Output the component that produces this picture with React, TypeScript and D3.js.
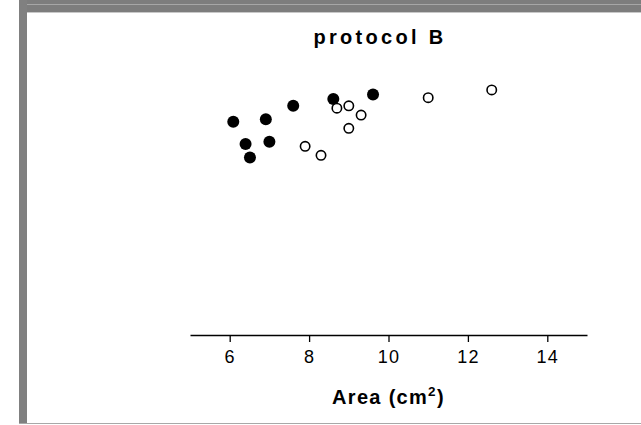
import React, { useEffect, useRef } from 'react';
import * as d3 from 'd3';

// protocol B: filled = group 1, open = group 2
const filledArea = [6.09, 6.91, 7.6, 8.61, 9.61, 6.4, 7.0, 6.51];
const filledY = [7.11, 7.19, 7.64, 7.87, 8.02, 6.37, 6.44, 5.92];
const openArea = [8.7, 9.0, 9.31, 9.0, 7.9, 8.3, 11.0, 12.6];
const openY = [7.56, 7.64, 7.33, 6.89, 6.29, 5.99, 7.91, 8.17];
const xTicks = [6, 8, 10, 12, 14];

const W = 641;
const H = 425;

const App = () => {
  const ref = useRef<SVGSVGElement>(null);

  useEffect(() => {
    const svg = d3.select(ref.current);
    svg.selectAll('*').remove();

    // frame
    svg.append('rect').attr('x', 0).attr('y', 0).attr('width', W).attr('height', H).attr('fill', '#fff');
    svg.append('rect').attr('x', 19).attr('y', 0).attr('width', W - 19).attr('height', 12).attr('fill', '#7d7d7d');
    svg.append('line').attr('x1', 27).attr('x2', W).attr('y1', 4.5).attr('y2', 4.5)
      .attr('stroke', '#a6a6a6').attr('stroke-width', 1);
    svg.append('line').attr('x1', 27).attr('x2', W).attr('y1', 12.5).attr('y2', 12.5)
      .attr('stroke', '#c8c8c8').attr('stroke-width', 1);
    svg.append('rect').attr('x', 19).attr('y', 0).attr('width', 8).attr('height', 424).attr('fill', '#808080');
    svg.append('line').attr('x1', 19).attr('x2', W).attr('y1', 423.5).attr('y2', 423.5)
      .attr('stroke', '#a8a8a8').attr('stroke-width', 1.2);

    const x = d3.scaleLinear().domain([5, 15]).range([190, 587]);
    const y = d3.scaleLinear().domain([0, 10]).range([335, 35]);

    // title
    svg.append('text')
      .attr('x', 380).attr('y', 44)
      .attr('text-anchor', 'middle')
      .attr('font-family', 'Liberation Sans, Arial, sans-serif')
      .attr('font-weight', 'bold').attr('font-size', 20)
      .attr('letter-spacing', 3.3)
      .text('protocol B');

    // x axis
    const axis = svg.append('g')
      .attr('transform', `translate(0,${y(0)})`)
      .call(d3.axisBottom(x).tickValues(xTicks).tickSizeInner(7).tickSizeOuter(0).tickPadding(8));
    axis.select('.domain').attr('stroke', '#000').attr('stroke-width', 1.3);
    axis.selectAll('.tick line').attr('stroke', '#000').attr('stroke-width', 1.3);
    axis.selectAll('.tick text')
      .attr('font-family', 'Liberation Sans, Arial, sans-serif')
      .attr('font-size', 18).attr('fill', '#000')
      .attr('letter-spacing', 1.2);

    const label = svg.append('text')
      .attr('x', x(10)).attr('y', 404)
      .attr('text-anchor', 'middle')
      .attr('font-family', 'Liberation Sans, Arial, sans-serif')
      .attr('font-weight', 'bold').attr('font-size', 20)
      .attr('letter-spacing', 1.3);
    label.append('tspan').text('Area (cm');
    label.append('tspan').attr('dy', -8).attr('font-size', 13.5).text('2');
    label.append('tspan').attr('dy', 8).text(')');

    // points
    svg.append('g').selectAll('circle')
      .data(d3.range(filledArea.length))
      .enter().append('circle')
      .attr('cx', i => x(filledArea[i]))
      .attr('cy', i => y(filledY[i]))
      .attr('r', 6)
      .attr('fill', '#000');

    svg.append('g').selectAll('circle')
      .data(d3.range(openArea.length))
      .enter().append('circle')
      .attr('cx', i => x(openArea[i]))
      .attr('cy', i => y(openY[i]))
      .attr('r', 4.7)
      .attr('fill', '#fff')
      .attr('stroke', '#000')
      .attr('stroke-width', 1.6);
  }, []);

  return (
    <div style={{ position: 'absolute', left: 0, top: 0 }}>
      <svg ref={ref} width={W} height={H} style={{ display: 'block' }} />
    </div>
  );
};

export default App;
